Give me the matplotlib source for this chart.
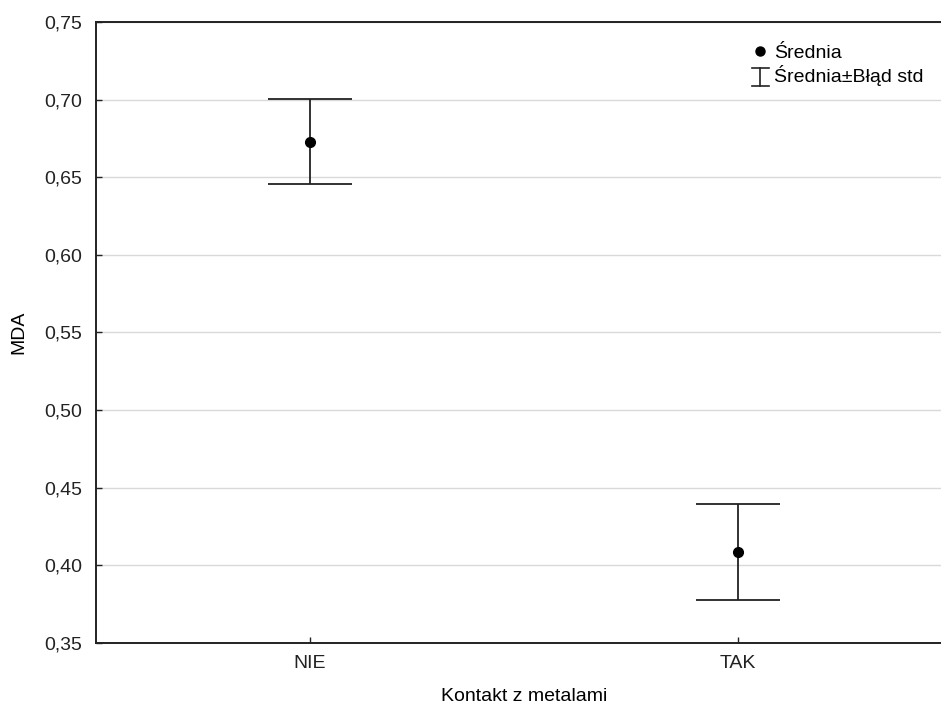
#!/usr/bin/env python3

import numpy as np
import matplotlib
matplotlib.use('Agg')
import matplotlib.pyplot as plt
from matplotlib.lines import Line2D
from matplotlib.legend_handler import HandlerBase
from matplotlib.ticker import FuncFormatter

plt.rcParams['font.family'] = ['Liberation Sans', 'DejaVu Sans']

groups = ['NIE', 'TAK']
means = [0.673, 0.4085]
std_err = [0.0275, 0.031]
y_ticks = [0.35, 0.40, 0.45, 0.50, 0.55, 0.60, 0.65, 0.70, 0.75]


def comma(v, pos):
    return '{:.2f}'.format(v).replace('.', ',')


class HandlerIBeam(HandlerBase):
    """vertical bar with two short caps, like the error bar symbol"""

    def create_artists(self, legend, orig, xd, yd, w, h, fontsize, trans):
        cx = xd + w / 2
        half = w / 2
        top = yd + h * 1.05
        bot = yd - h * 0.25
        kw = dict(color='#222222', lw=1.2, transform=trans)
        return [Line2D([cx, cx], [bot, top], **kw),
                Line2D([cx - half, cx + half], [top, top], **kw),
                Line2D([cx - half, cx + half], [bot, bot], **kw)]


def main():
    fig = plt.figure(figsize=(9.41, 7.08), dpi=100)
    ax = fig.add_axes([96 / 941, 1 - 643 / 708, 856 / 941, 621 / 708])

    x = np.arange(len(groups))
    ax.errorbar(x, means, yerr=std_err, fmt='none', ecolor='#222222',
                elinewidth=1.3, capsize=30, capthick=1.3, zorder=3)
    ax.plot(x, means, 'o', color='black', markersize=7, zorder=4)

    ax.set_xlim(-0.5, 1.5)
    ax.set_ylim(0.35, 0.75)
    ax.set_xticks(x)
    ax.set_xticklabels(groups)
    ax.set_yticks(y_ticks)
    ax.yaxis.set_major_formatter(FuncFormatter(comma))
    ax.tick_params(direction='in', length=4, width=1, labelsize=14,
                   colors='#222222')
    ax.tick_params(axis='y', pad=10)
    ax.tick_params(axis='x', pad=9)
    ax.grid(axis='y', color='#d9d9d9', linewidth=1)
    ax.set_axisbelow(True)
    for s in ax.spines.values():
        s.set_color('#222222')
        s.set_linewidth(1.4)

    ax.set_xlabel('Kontakt z metalami', fontsize=14, labelpad=11)
    ax.set_ylabel('MDA', fontsize=14, labelpad=12)

    mean_h = Line2D([], [], marker='o', color='black', linestyle='none',
                    markersize=6.5)
    err_h = Line2D([], [])
    fig.legend([mean_h, err_h], ['Średnia', 'Średnia±Błąd std'],
               handler_map={err_h: HandlerIBeam()},
               loc='upper left', bbox_to_anchor=(752 / 941, 1 - 44 / 708),
               frameon=False, fontsize=14, handlelength=0.85,
               handletextpad=0.3, labelspacing=0.2, borderpad=0,
               borderaxespad=0)

    plt.savefig('out.png', dpi=100)


if __name__ == '__main__':
    main()
